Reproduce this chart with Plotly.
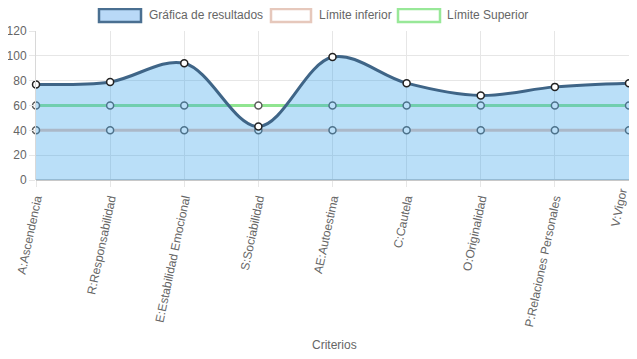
import plotly.graph_objects as go

categories = ["A:Ascendencia", "R:Responsabilidad", "E:Estabilidad Emocional", "S:Sociabilidad",
              "AE:Autoestima", "C:Cautela", "O:Originalidad", "P:Relaciones Personales", "V:Vigor"]
resultados = [77, 79, 94, 43, 99, 78, 68, 75, 78]
limite_inferior = [40, 40, 40, 40, 40, 40, 40, 40, 40]
limite_superior = [60, 60, 60, 60, 60, 60, 60, 60, 60]
y_ticks = [0, 20, 40, 60, 80, 100, 120]
legend_names = ["Gráfica de resultados", "Límite inferior", "Límite Superior"]

# the page body adds an 8px margin on every side; size the figure to fit inside it
OFF = 8
W, H = 637 - 2 * OFF, 359 - 2 * OFF
L, R, T = 36 - OFF, 0, 31 - OFF
B = H - (180 - OFF)
PW, PH = W - L - R, H - T - B

def px(x):
    return (x - OFF - L) / PW

def py(y):
    return (H - B - (y - OFF)) / PH

FONT = "Liberation Sans, Arial, Helvetica, sans-serif"
GRAY = "#666666"

fig = go.Figure()

fig.add_trace(go.Scatter(
    x=categories, y=limite_inferior, mode="lines+markers", name=legend_names[1],
    line=dict(color="#e8c4b6", width=3, shape="spline", smoothing=1),
    marker=dict(size=7, color="white", line=dict(color="#5a5a5a", width=1.5)),
    cliponaxis=False, showlegend=False))

fig.add_trace(go.Scatter(
    x=categories, y=limite_superior, mode="lines+markers", name=legend_names[2],
    line=dict(color="#90e590", width=3, shape="spline", smoothing=1),
    marker=dict(size=7, color="white", line=dict(color="#5a5a5a", width=1.5)),
    cliponaxis=False, showlegend=False))

fig.add_trace(go.Scatter(
    x=categories, y=resultados, mode="lines+markers", name=legend_names[0],
    fill="tozeroy", fillcolor="rgba(54,162,235,0.34)",
    line=dict(color="#3f6587", width=3, shape="spline", smoothing=1),
    marker=dict(size=7, color="white", line=dict(color="#222222", width=1.5)),
    cliponaxis=False, showlegend=False))

# custom legend (Chart.js style)
legend_items = [
    (98, 142, 147, legend_names[0], "#b9d9f7", "#4a6f91"),
    (270, 312, 317, legend_names[1], "white", "#e6c8bc"),
    (397, 441, 445, legend_names[2], "white", "#98e898"),
]
shapes = []
annotations = []
for x0, x1, tx, name, fillc, linec in legend_items:
    shapes.append(dict(type="rect", xref="paper", yref="paper",
                       x0=px(x0 + 1), x1=px(x1 - 1), y0=py(22), y1=py(9),
                       fillcolor=fillc, line=dict(color=linec, width=2.5), layer="above"))
    annotations.append(dict(text=name, xref="paper", yref="paper", x=px(tx), y=py(15.5),
                            xanchor="left", yanchor="middle", showarrow=False,
                            font=dict(family=FONT, size=12, color=GRAY)))

annotations.append(dict(text="Criterios", xref="paper", yref="paper", x=px(334.5), y=py(344.5),
                        xanchor="center", yanchor="middle", showarrow=False,
                        font=dict(family=FONT, size=12, color=GRAY)))

# the last tick label sits at the right edge: draw it as a rotated annotation nudged inside
tick_text = categories[:-1] + [""]
annotations.append(dict(text=categories[-1], xref="x", yref="paper", x=categories[-1], y=py(208),
                        xanchor="center", yanchor="middle", showarrow=False, textangle=-78,
                        xshift=-10, font=dict(family=FONT, size=12, color=GRAY)))

fig.update_layout(
    width=W, height=H,
    margin=dict(l=L, r=R, t=T, b=B, autoexpand=False),
    paper_bgcolor="white", plot_bgcolor="white",
    font=dict(family=FONT, size=12, color=GRAY),
    shapes=shapes, annotations=annotations,
    showlegend=False,
    xaxis=dict(type="category", range=[0, len(categories) - 1], automargin=False,
               tickmode="array", tickvals=categories, ticktext=tick_text,
               showgrid=True, gridcolor="#e6e6e6", gridwidth=1,
               ticks="outside", ticklen=6, tickcolor="#e6e6e6",
               tickangle=-78, tickfont=dict(family=FONT, size=12, color=GRAY),
               showline=False, zeroline=False, fixedrange=True),
    yaxis=dict(range=[0, 120], tickvals=y_ticks, automargin=False,
               showgrid=True, gridcolor="#e6e6e6", gridwidth=1,
               ticks="outside", ticklen=6, tickcolor="#e6e6e6",
               tickfont=dict(family=FONT, size=12, color=GRAY),
               zeroline=True, zerolinecolor="#c8c8c8", zerolinewidth=1.5,
               showline=True, linecolor="#d8d8d8", linewidth=1, fixedrange=True),
)

fig.write_html("out.html")
